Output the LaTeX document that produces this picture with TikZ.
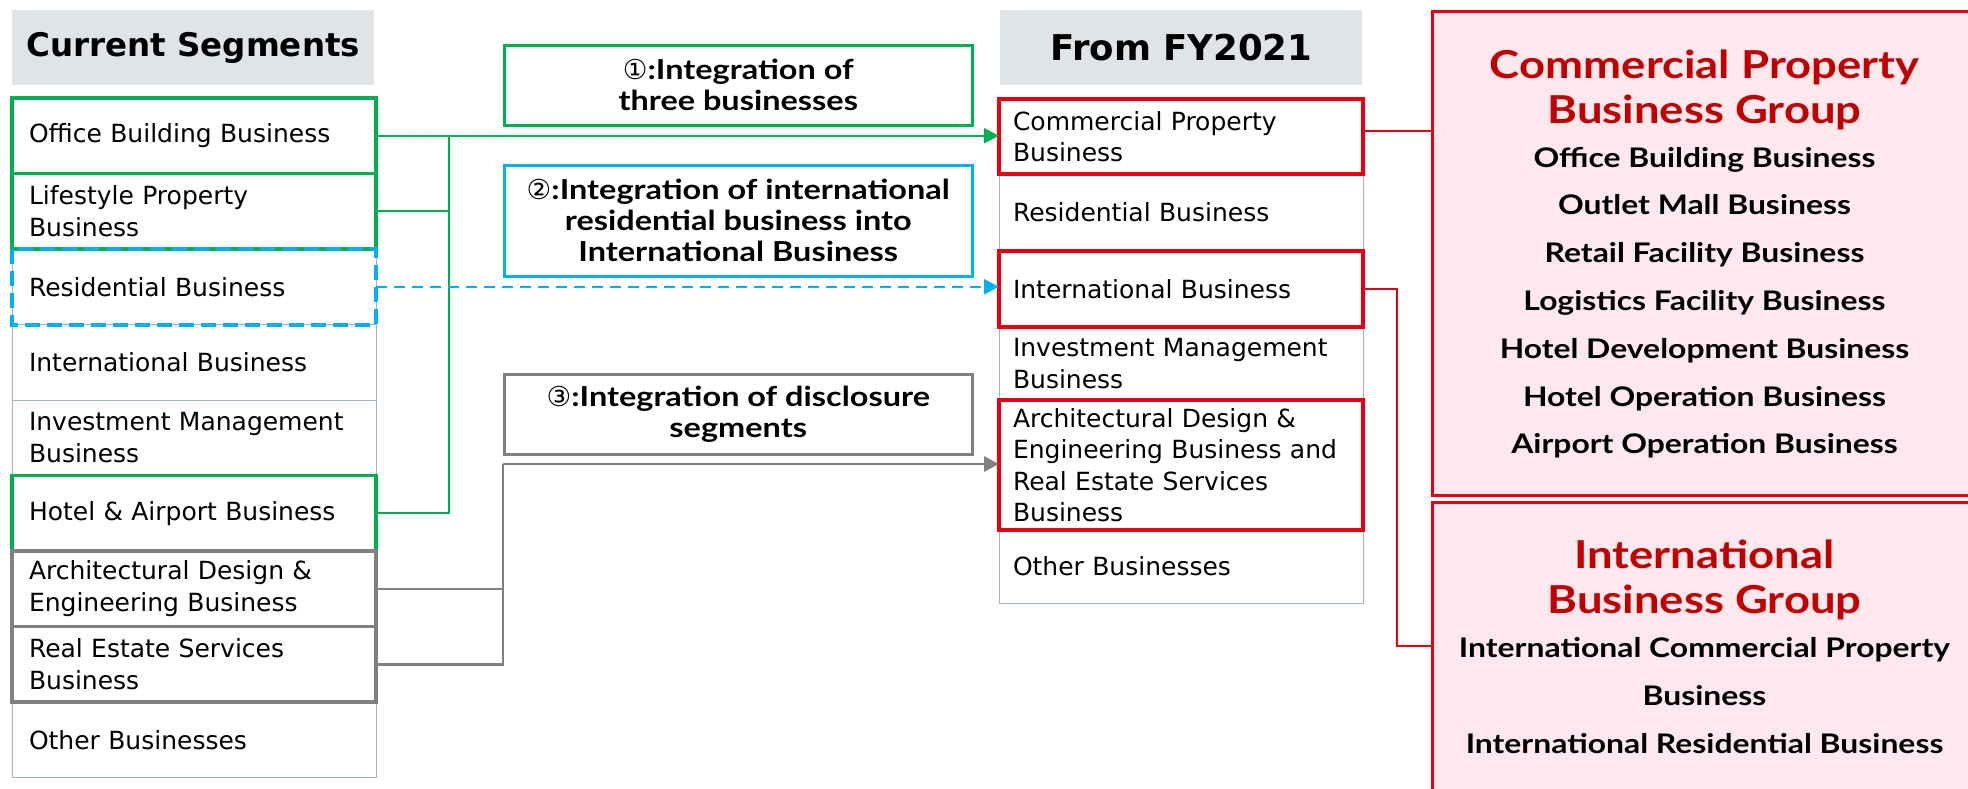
\documentclass[tikz,border=0pt]{standalone}
\usepackage{fontspec}
\setmainfont{DejaVu Sans}
\newfontfamily\groupfont[FakeStretch=1.18]{Lato}
\newfontfamily\symbfont{DejaVu Sans}
\usepackage{xcolor}
\usetikzlibrary{arrows.meta, positioning}

\definecolor{hdrgray}{RGB}{222,228,232}
\definecolor{rowline}{RGB}{160,180,198}
\definecolor{intgreen}{RGB}{0,176,80}
\definecolor{intblue}{RGB}{0,176,240}
\definecolor{intgray}{RGB}{128,128,128}
\definecolor{grpred}{RGB}{230,0,18}
\definecolor{titlered}{RGB}{192,0,0}
\definecolor{grppink}{RGB}{253,233,237}

\begin{document}
\begin{tikzpicture}[
    x=1pt, y=-1pt,
    every node/.style={color=black},
    header/.style={fill=hdrgray, minimum width=362pt, minimum height=75pt,
                   anchor=north west, inner sep=0pt,
                   font=\fontsize{32.5}{38}\selectfont\bfseries},
    seg/.style={draw=rowline, line width=1pt, minimum width=364pt,
                minimum height=75.5pt, text width=336pt, inner xsep=14pt,
                inner ysep=0pt, outer sep=0pt, align=left,
                font=\fontsize{25}{31.5}\selectfont},
    curseg/.style={seg, text width=330pt, inner xsep=17pt},
    greenbox/.style={draw=intgreen, line width=3.5pt},
    bluebox/.style={draw=intblue, line width=4pt, dash pattern=on 15pt off 7pt},
    graybox/.style={draw=intgray, line width=3.5pt},
    redbox/.style={draw=grpred, line width=4pt},
    note/.style={draw, line width=2.5pt, minimum width=468pt, anchor=north west,
                 align=center, inner sep=0pt,
                 font=\groupfont\bfseries\fontsize{27.5}{31}\selectfont},
    groupbox/.style={draw=grpred, fill=grppink, line width=2.5pt,
                     anchor=north west, inner sep=0pt},
    grptitle/.style={align=center, color=titlered,
                     font=\groupfont\bfseries\fontsize{38.5}{45}\selectfont},
    grpitem/.style={anchor=base,
                    font=\groupfont\bfseries\fontsize{27}{32}\selectfont},
    greenline/.style={draw=intgreen, line width=2pt},
    blueline/.style={draw=intblue, line width=2.5pt, dash pattern=on 11pt off 7pt},
    grayline/.style={draw=intgray, line width=2.5pt},
    redline/.style={draw=grpred, line width=2pt},
    >={Triangle[length=15pt, width=15pt]}
]
\useasboundingbox (0,0) rectangle (1968,788);
\clip (0,0) rectangle (1968,788);

% --- Column headers ---
\node[header] (curhdr) at (12,10) {Current Segments};
\node[header, font=\fontsize{35.5}{40}\selectfont\bfseries] (newhdr) at (1000,10) {From FY2021};

% --- Current segments ---
\node[curseg, anchor=north west] (office) at (12,98) {Office Building Business};
\node[curseg, below=0pt of office] (life) {Lifestyle Property\\Business};
\node[curseg, below=0pt of life] (resid) {Residential Business};
\node[curseg, below=0pt of resid] (intl) {International Business};
\node[curseg, below=0pt of intl] (invest) {Investment Management\\Business};
\node[curseg, below=0pt of invest] (hotel) {Hotel \& Airport Business};
\node[curseg, below=0pt of hotel] (arch) {Architectural Design \&\\Engineering Business};
\node[curseg, below=0pt of arch] (real) {Real Estate Services\\Business};
\node[curseg, below=0pt of real] (other) {Other Businesses};

% --- Segments from FY2021 ---
\node[seg, anchor=north west, minimum height=75pt] (fcp) at (999,99) {Commercial Property\\Business};
\node[seg, below=0pt of fcp, minimum height=77pt] (fres) {Residential Business};
\node[seg, below=0pt of fres, minimum height=76pt] (fint) {International Business};
\node[seg, below=0pt of fint, minimum height=73pt] (finv) {Investment Management\\Business};
\node[seg, below=0pt of finv, minimum height=130pt] (farch)
    {Architectural Design \&\\Engineering Business and\\Real Estate Services\\Business};
\node[seg, below=0pt of farch, minimum height=73pt] (foth) {Other Businesses};

% --- Highlights ---
\draw[greenbox] (office.north west) rectangle (office.south east);
\draw[greenbox] (life.north west) rectangle (life.south east);
\draw[greenbox] (hotel.north west) rectangle (hotel.south east);
\draw[bluebox] (resid.north west) rectangle (resid.south east);
\draw[graybox] (arch.north west) rectangle (arch.south east);
\draw[graybox] (real.north west) rectangle (real.south east);
\draw[redbox] (fcp.north west) rectangle (fcp.south east);
\draw[redbox] (fint.north west) rectangle (fint.south east);
\draw[redbox] (farch.north west) rectangle (farch.south east);

% --- Integration notes ---
\node[note, draw=intgreen, minimum height=80pt] (note1) at (503,44)
    {{\symbfont\mdseries ①}:Integration of\\three businesses};
\node[note, draw=intblue, minimum height=111pt] (note2) at (503,164)
    {{\symbfont\mdseries ②}:Integration of international\\residential business into\\International Business};
\node[note, draw=intgray, minimum height=80pt] (note3) at (503,373)
    {{\symbfont\mdseries ③}:Integration of disclosure\\segments};

% --- (1) three businesses into Commercial Property ---
\coordinate (gjoin) at (449,136);
\draw[greenline, ->] (office.east) -- (office.east -| fcp.west);
\draw[greenline] (life.east) -- (life.east -| gjoin);
\draw[greenline] (hotel.east) -| (gjoin);

% --- (2) residential into International ---
\draw[blueline, ->] (resid.east) -- (resid.east -| fint.west);

% --- (3) disclosure segments ---
\coordinate (gjoin3) at (503,464);
\draw[grayline] (arch.east) -- (arch.east -| gjoin3);
\draw[grayline] (real.east) -| (gjoin3);
\draw[grayline, ->] (gjoin3) -- (gjoin3 -| farch.west);

% --- Business groups ---
\node[groupbox, minimum width=547pt, minimum height=484pt] (cpg) at (1431,10) {};
\node[groupbox, minimum width=547pt, minimum height=300pt] (ibg) at (1431,501) {};

\node[grptitle] (cpgt) at (1704.5,90) {Commercial Property\\Business Group};
\node[grpitem] (cpg1) at (1704.5,167) {Office Building Business};
\node[grpitem] (cpg2) at (1704.5,214) {Outlet Mall Business};
\node[grpitem] (cpg3) at (1704.5,262) {Retail Facility Business};
\node[grpitem] (cpg4) at (1704.5,310) {Logistics Facility Business};
\node[grpitem] (cpg5) at (1704.5,358) {Hotel Development Business};
\node[grpitem] (cpg6) at (1704.5,406) {Hotel Operation Business};
\node[grpitem] (cpg7) at (1704.5,453) {Airport Operation Business};

\node[grptitle] (ibgt) at (1704.5,580) {International\\Business Group};
\node[grpitem] (ibg1) at (1704.5,657) {International Commercial Property};
\node[grpitem] (ibg2) at (1704.5,705) {Business};
\node[grpitem] (ibg3) at (1704.5,753) {International Residential Business};

% --- Links to groups ---
\coordinate (cpout) at ([yshift=6pt]fcp.east);
\draw[redline] (cpout) -- (cpout -| cpg.west);
\coordinate (ibturn) at (1397,646);
\draw[redline] (fint.east) -| (ibturn) -- (ibturn -| ibg.west);

\end{tikzpicture}
\end{document}
